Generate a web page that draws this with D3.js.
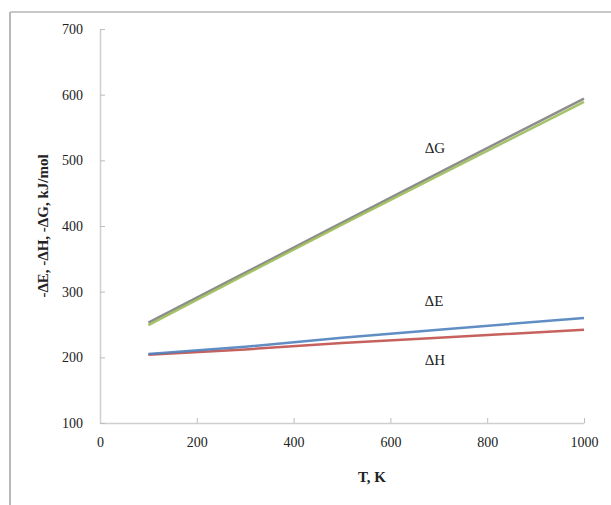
<!DOCTYPE html>
<html>
<meta charset="utf-8">
<title>Thermodynamic functions vs T</title>
<script src="https://d3js.org/d3.v7.min.js"></script>
<style>
  body { margin: 0; background: #fff; }
  text { font-family: "Liberation Serif", "DejaVu Serif", serif; fill: #222; }
</style>
<body>
<script>
  // data (T in K, values in kJ/mol)
  var temps = [100, 300, 500, 700, 1000];
  var dG_fit = [253, 329, 405, 481, 594];
  var dG = [249, 326, 402, 477, 589];
  var dE = [205, 216, 230, 242, 260];
  var dH = [204, 212, 222, 230, 242];
  var xTicks = [0, 200, 400, 600, 800, 1000];
  var yTicks = [100, 200, 300, 400, 500, 600, 700];

  var width = 611, height = 505;
  var svg = d3.select("body").append("svg").attr("width", width).attr("height", height);

  // frame lines of the picture
  svg.append("line").attr("x1", 10).attr("y1", 12).attr("x2", width).attr("y2", 12)
    .attr("stroke", "#c8c8c8").attr("stroke-width", 2);
  svg.append("line").attr("x1", 10).attr("y1", 12).attr("x2", 10).attr("y2", height)
    .attr("stroke", "#b8b8b8").attr("stroke-width", 2);

  var xScale = d3.scaleLinear().domain([0, 1000]).range([100, 584]);
  var yScale = d3.scaleLinear().domain([100, 700]).range([423, 29]);

  var axisX = d3.axisBottom(xScale).tickValues(xTicks).tickFormat(d3.format("d"))
    .tickSizeInner(-5).tickSizeOuter(0).tickPadding(14);
  var axisY = d3.axisLeft(yScale).tickValues(yTicks).tickFormat(d3.format("d"))
    .tickSizeInner(-5).tickSizeOuter(0).tickPadding(17);

  var gx = svg.append("g").attr("transform", "translate(0,423)").call(axisX);
  var gy = svg.append("g").attr("transform", "translate(100,0)").call(axisY);
  [gx, gy].forEach(function(g) {
    g.select(".domain").attr("stroke", "#cfcfcf").attr("stroke-width", 1.5);
    g.selectAll(".tick line").attr("stroke", "#bdbdbd");
    g.selectAll(".tick text").attr("font-size", 14).attr("fill", "#222")
      .style("font-family", "Liberation Serif, serif");
  });

  var line = d3.line()
    .x(function(d) { return xScale(d[0]); })
    .y(function(d) { return yScale(d[1]); });

  var series = [
    { v: dG_fit, color: "#7f7f7f" },
    { v: dG, color: "#9bbb59" },
    { v: dH, color: "#c0504d" },
    { v: dE, color: "#4f81bd" }
  ];
  series.forEach(function(s) {
    svg.append("path")
      .datum(temps.map(function(t, i) { return [t, s.v[i]]; }))
      .attr("d", line)
      .attr("fill", "none")
      .attr("stroke", s.color)
      .attr("stroke-width", 2.5)
      .attr("stroke-opacity", 0.9);
  });

  // series labels
  var labels = [
    { t: "ΔG", x: 692, y: 516 },
    { t: "ΔE", x: 690, y: 284 },
    { t: "ΔH", x: 692, y: 193 }
  ];
  svg.selectAll(".lab").data(labels).enter().append("text")
    .attr("class", "lab")
    .attr("x", function(d) { return xScale(d.x); })
    .attr("y", function(d) { return yScale(d.y); })
    .attr("text-anchor", "middle")
    .attr("dominant-baseline", "middle")
    .attr("font-size", 15)
    .attr("fill", "#333")
    .text(function(d) { return d.t; });

  svg.append("text")
    .attr("x", 372).attr("y", 482)
    .attr("text-anchor", "middle")
    .attr("font-size", 15).attr("font-weight", "bold")
    .text("T, K");

  svg.append("text")
    .attr("transform", "translate(48,226) rotate(-90)")
    .attr("text-anchor", "middle")
    .attr("font-size", 15).attr("font-weight", "bold")
    .text("-ΔE, -ΔH, -ΔG, kJ/mol");
</script>
</body>
</html>
